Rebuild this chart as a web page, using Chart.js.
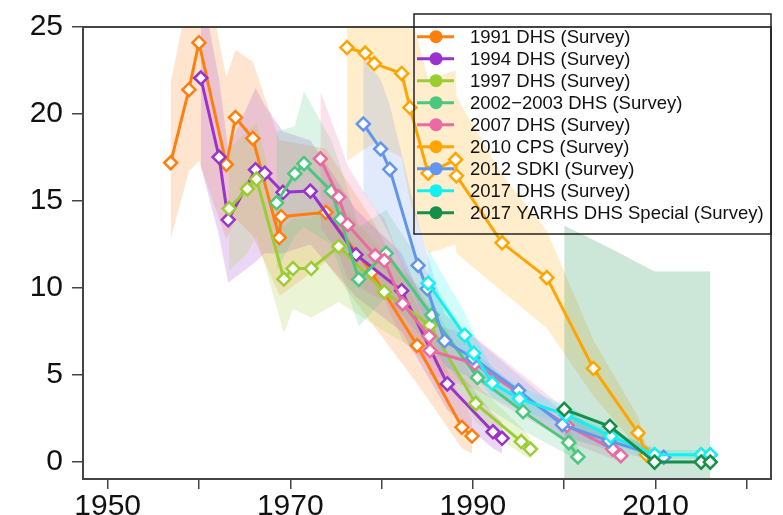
<!DOCTYPE html>
<html>
<head>
<meta charset="utf-8">
<script src="https://cdn.jsdelivr.net/npm/chart.js@4.4.1/dist/chart.umd.min.js"></script>
<style>
  body { margin: 0; background: #fff; }
  canvas { display: block; }
</style>
</head>
<body>
<canvas id="mortChart" width="783" height="515"></canvas>
<script>
// Each survey: period midpoints, estimate, lower and upper bound of the interval

const dhs1991Years = [1956.9, 1958.9, 1960.0, 1963.0, 1964.0, 1965.9, 1968.8, 1969.0, 1973.9, 1978.9, 1983.9, 1988.8, 1989.9];
const dhs1991Est   = [17.2, 21.4, 24.1, 17.1, 19.8, 18.6, 12.9, 14.1, 14.35, 10.9, 6.7, 2.0, 1.5];
const dhs1991Lo    = [12.8, 16.7, 17.3, 12.8, 14.0, 13.0, 9.6, 9.6, 11.5, 8.0, 4.5, 0.8, 0.5];
const dhs1991Hi    = [21.8, 27.0, 30.0, 22.1, 23.7, 23.0, 18.5, 18.5, 18.0, 14.0, 9.0, 3.5, 2.5];

const dhs1994Years = [1960.2, 1962.2, 1963.2, 1966.2, 1967.2, 1969.2, 1972.2, 1977.2, 1982.2, 1987.2, 1992.2, 1993.2];
const dhs1994Est   = [22.07, 17.53, 13.92, 16.8, 16.6, 15.5, 15.57, 11.92, 9.85, 4.49, 1.74, 1.37];
const dhs1994Lo    = [17.0, 13.0, 10.3, 11.5, 12.0, 12.0, 12.5, 9.5, 7.5, 3.0, 0.8, 0.5];
const dhs1994Hi    = [27.5, 22.0, 18.0, 21.5, 20.5, 19.0, 18.5, 14.5, 12.0, 6.0, 2.8, 2.3];

const dhs1997Years = [1963.3, 1965.3, 1966.3, 1969.3, 1970.3, 1972.3, 1975.3, 1980.3, 1985.3, 1990.3, 1995.3, 1996.3];
const dhs1997Est   = [14.57, 15.7, 16.26, 10.52, 11.12, 11.12, 12.39, 9.78, 7.85, 3.36, 1.18, 0.75];
const dhs1997Lo    = [11.0, 12.0, 13.0, 7.4, 8.8, 8.3, 9.2, 7.5, 6.0, 2.3, 0.5, 0.2];
const dhs1997Hi    = [18.0, 19.0, 19.5, 13.5, 14.0, 14.0, 15.0, 12.0, 9.5, 4.5, 2.0, 1.4];

const dhs2002Years = [1968.5, 1970.5, 1971.5, 1974.5, 1975.5, 1977.5, 1980.5, 1985.5, 1990.5, 1995.5, 2000.5, 2001.5];
const dhs2002Est   = [14.9, 16.57, 17.15, 15.57, 13.96, 10.5, 12.0, 8.45, 4.86, 2.9, 1.12, 0.30];
const dhs2002Lo    = [11.0, 13.0, 13.5, 12.5, 11.0, 7.8, 9.5, 6.5, 3.5, 1.8, 0.4, -0.2];
const dhs2002Hi    = [19.0, 19.3, 21.3, 18.5, 17.0, 13.5, 14.5, 10.5, 6.2, 4.0, 2.0, 0.9];

const dhs2007Years = [1973.3, 1975.3, 1976.3, 1979.3, 1980.3, 1982.3, 1985.2, 1985.3, 1990.2, 2000.3, 2005.3, 2006.2];
const dhs2007Est   = [17.43, 15.23, 13.64, 11.87, 11.58, 9.1, 7.23, 6.41, 5.66, 2.11, 0.75, 0.37];
const dhs2007Lo    = [13.5, 12.0, 10.5, 9.5, 9.3, 7.0, 5.5, 5.0, 4.2, 1.2, 0.2, 0.0];
const dhs2007Hi    = [21.3, 18.5, 17.0, 14.5, 14.0, 11.3, 9.0, 8.0, 7.2, 3.0, 1.3, 0.8];

const cps2010Years = [1976.2, 1978.2, 1979.2, 1982.2, 1983.1, 1985.1, 1988.1, 1988.2, 1993.2, 1998.1, 2003.2, 2008.1, 2009.0];
const cps2010Est   = [23.82, 23.5, 22.9, 22.33, 20.37, 16.6, 17.38, 16.45, 12.6, 10.6, 5.38, 1.68, 0.43];
const cps2010Lo    = [17.3, 18.0, 18.3, 17.5, 15.0, 12.0, 12.5, 12.0, 9.8, 7.7, 3.8, 0.8, 0.0];
const cps2010Hi    = [30.0, 30.0, 29.5, 28.5, 26.0, 22.0, 22.5, 21.0, 16.5, 13.3, 7.0, 2.6, 0.9];

const sdki2012Years = [1978.0, 1979.9, 1980.9, 1984.0, 1985.0, 1986.9, 1990.0, 1995.0, 1999.8, 2004.9, 2010.9];
const sdki2012Est   = [19.43, 17.99, 16.82, 11.3, 9.96, 6.97, 5.98, 4.11, 2.15, 1.22, 0.28];
const sdki2012Lo    = [15.5, 14.0, 13.0, 9.0, 8.0, 5.5, 4.8, 3.2, 1.5, 0.7, 0.0];
const sdki2012Hi    = [23.2, 22.0, 20.5, 13.8, 12.0, 8.5, 7.2, 5.0, 2.9, 1.8, 0.6];

const dhs2017Years = [1985.1, 1989.1, 1990.1, 1992.1, 1995.1, 2000.2, 2005.1, 2009.9, 2015.0, 2016.0];
const dhs2017Est   = [10.28, 7.29, 6.26, 4.54, 3.64, 2.71, 1.5, 0.43, 0.43, 0.43];
const dhs2017Lo    = [8.5, 6.0, 5.2, 3.7, 3.0, 2.1, 1.1, 0.2, 0.2, 0.2];
const dhs2017Hi    = [12.2, 8.6, 7.4, 5.4, 4.3, 3.3, 1.9, 0.7, 0.7, 0.7];

const yarhsYears = [2000.0, 2005.0, 2009.9, 2015.0, 2016.0];
const yarhsEst   = [3.03, 2.06, 0.0, 0.0, 0.0];
const yarhsLo    = [-3, -3, -3, -3, -3];
const yarhsHi    = [13.6, 12.3, 10.95, 10.95, 10.95];

const xTickYears = [1950, 1960, 1970, 1980, 1990, 2000, 2010, 2020];
const yTickValues = [0, 5, 10, 15, 20, 25];

const surveys = [
  { label: '1991 DHS (Survey)', color: '#ff7f0e', years: dhs1991Years, est: dhs1991Est, lo: dhs1991Lo, hi: dhs1991Hi },
  { label: '1994 DHS (Survey)', color: '#9a32cd', years: dhs1994Years, est: dhs1994Est, lo: dhs1994Lo, hi: dhs1994Hi },
  { label: '1997 DHS (Survey)', color: '#9acd32', years: dhs1997Years, est: dhs1997Est, lo: dhs1997Lo, hi: dhs1997Hi },
  { label: '2002\u22122003 DHS (Survey)', color: '#4cc77e', years: dhs2002Years, est: dhs2002Est, lo: dhs2002Lo, hi: dhs2002Hi },
  { label: '2007 DHS (Survey)', color: '#ea6aa2', years: dhs2007Years, est: dhs2007Est, lo: dhs2007Lo, hi: dhs2007Hi },
  { label: '2010 CPS (Survey)', color: '#ffa500', years: cps2010Years, est: cps2010Est, lo: cps2010Lo, hi: cps2010Hi },
  { label: '2012 SDKI (Survey)', color: '#6495ed', years: sdki2012Years, est: sdki2012Est, lo: sdki2012Lo, hi: sdki2012Hi },
  { label: '2017 DHS (Survey)', color: '#14f0f0', years: dhs2017Years, est: dhs2017Est, lo: dhs2017Lo, hi: dhs2017Hi },
  { label: '2017 YARHS DHS Special (Survey)', color: '#178f4a', years: yarhsYears, est: yarhsEst, lo: yarhsLo, hi: yarhsHi }
];

function rgba(hex, a) {
  const n = parseInt(hex.slice(1), 16);
  return `rgba(${(n >> 16) & 255}, ${(n >> 8) & 255}, ${n & 255}, ${a})`;
}

const pts = (xs, ys) => xs.map((x, i) => ({ x: x, y: ys[i] }));

// bands first (lower bound, then upper filled down to it), then the estimate lines
const datasets = [];
surveys.forEach((s, k) => {
  datasets.push({
    data: pts(s.years, s.lo),
    borderWidth: 0, pointRadius: 0, fill: false,
    order: 50 - k
  });
  datasets.push({
    data: pts(s.years, s.hi),
    borderWidth: 0, pointRadius: 0,
    fill: '-1',
    backgroundColor: rgba(s.color, k === 8 ? 0.22 : 0.2),
    order: 50 - k
  });
});
surveys.forEach((s, k) => {
  datasets.push({
    label: s.label,
    data: pts(s.years, s.est),
    borderColor: s.color,
    borderWidth: 3,
    fill: false,
    pointStyle: 'rectRot',
    pointRadius: 6.5,
    pointBackgroundColor: '#fff',
    pointBorderColor: s.color,
    pointBorderWidth: 2.5,
    order: 20 - k
  });
});

// box around the plot panel
const framePlugin = {
  id: 'frame',
  afterDatasetsDraw(chart) {
    const { ctx, chartArea: a } = chart;
    ctx.save();
    ctx.strokeStyle = '#444';
    ctx.lineWidth = 2;
    ctx.strokeRect(a.left, a.top, a.right - a.left, a.bottom - a.top);
    ctx.restore();
  }
};

// legend box in the upper right corner of the panel
const legendBox = {
  id: 'legendBox',
  afterDraw(chart) {
    const ctx = chart.ctx;
    const x0 = 414, y0 = 14, x1 = 771, y1 = 234;
    ctx.save();
    ctx.strokeStyle = '#222';
    ctx.lineWidth = 1.5;
    ctx.strokeRect(x0, y0, x1 - x0, y1 - y0);
    ctx.font = '18.5px "Liberation Sans", Arial, sans-serif';
    ctx.textBaseline = 'middle';
    surveys.forEach((s, i) => {
      const y = 36.7 + i * 22;
      ctx.strokeStyle = s.color;
      ctx.lineWidth = 3;
      ctx.beginPath();
      ctx.moveTo(417, y);
      ctx.lineTo(454, y);
      ctx.stroke();
      ctx.fillStyle = s.color;
      ctx.beginPath();
      ctx.arc(436, y, 6.5, 0, Math.PI * 2);
      ctx.fill();
      ctx.fillStyle = '#111';
      ctx.fillText(s.label, 470, y + 1);
    });
    ctx.restore();
  }
};

new Chart(document.getElementById('mortChart').getContext('2d'), {
  type: 'line',
  data: { datasets: datasets },
  options: {
    responsive: false,
    animation: false,
    layout: { padding: { top: 15, right: 12, left: 0, bottom: 0 } },
    plugins: {
      legend: { display: false },
      tooltip: { enabled: false }
    },
    elements: { line: { tension: 0 } },
    scales: {
      x: {
        type: 'linear',
        min: 1947.3,
        max: 2022.65,
        afterBuildTicks: scale => { scale.ticks = xTickYears.map(v => ({ value: v })); },
        afterFit: scale => { scale.height = 36; },
        border: { display: false },
        grid: { drawOnChartArea: false, drawTicks: true, tickLength: 10, color: '#444', lineWidth: 1.5 },
        ticks: {
          padding: 0,
          maxRotation: 0,
          autoSkip: false,
          color: '#111',
          font: { family: '"Liberation Sans", Arial, sans-serif', size: 30 },
          callback: v => ((v - 1950) % 20 === 0 ? String(v) : '')
        }
      },
      y: {
        min: -0.97,
        max: 25,
        afterBuildTicks: scale => { scale.ticks = yTickValues.map(v => ({ value: v })); },
        afterFit: scale => { scale.width = 83; },
        border: { display: false },
        grid: { drawOnChartArea: false, drawTicks: true, tickLength: 11, color: '#444', lineWidth: 1.5 },
        ticks: {
          padding: 9,
          color: '#111',
          font: { family: '"Liberation Sans", Arial, sans-serif', size: 30 }
        }
      }
    }
  },
  plugins: [framePlugin, legendBox]
});
</script>
</body>
</html>
